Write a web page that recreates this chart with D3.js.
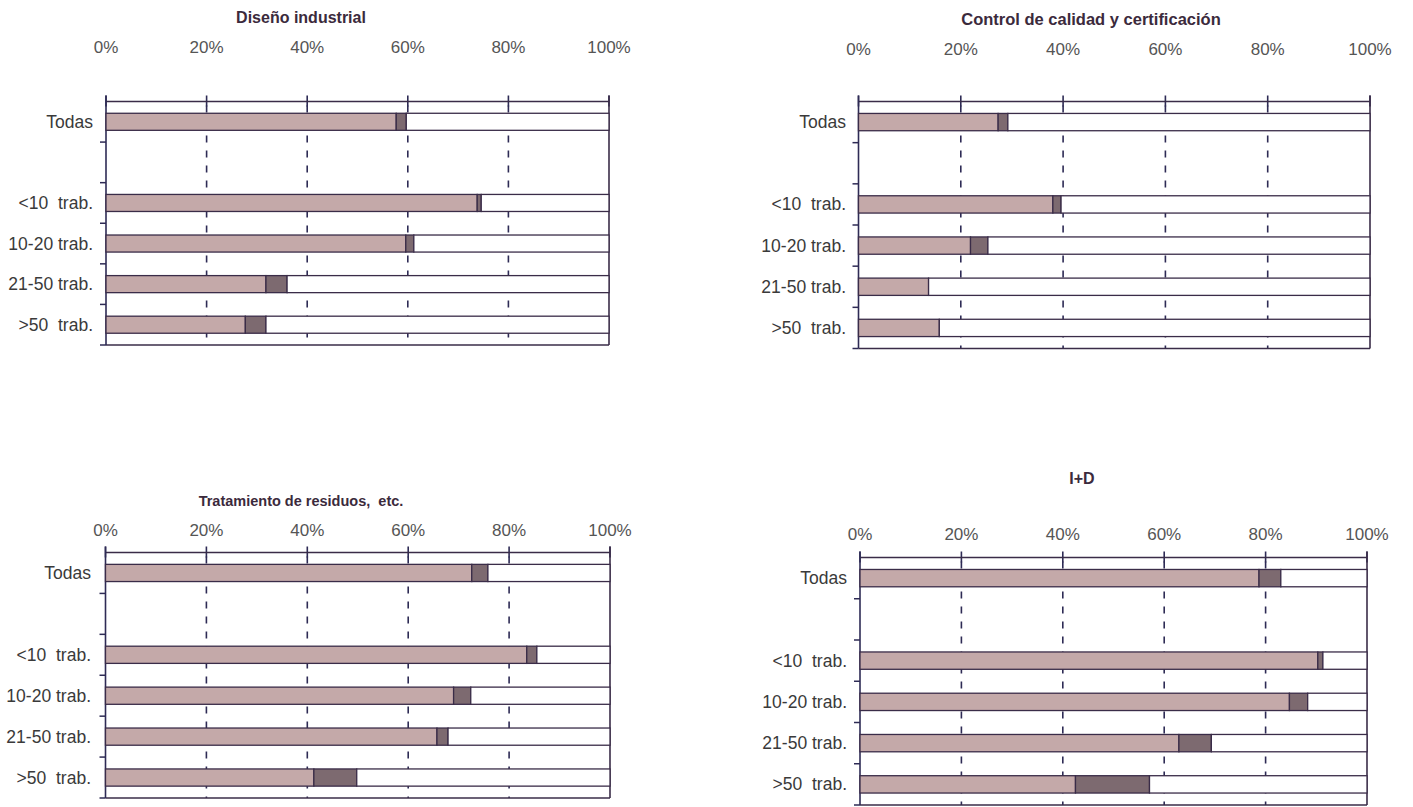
<!DOCTYPE html>
<html>
<head>
<meta charset="utf-8">
<script src="https://cdn.jsdelivr.net/npm/d3@7"></script>
<style>
  html, body { margin: 0; padding: 0; background: #ffffff; }
  svg { display: block; }
  text { font-family: Arial, "Liberation Sans", sans-serif; }
</style>
</head>
<body>
<svg id="chart" width="1413" height="807"></svg>
<script>
// ---- data ----
const categories = ["Todas", "", "<10  trab.", "10-20 trab.", "21-50 trab.", ">50  trab."];
const barCategories = ["Todas", "<10  trab.", "10-20 trab.", "21-50 trab.", ">50  trab."];
const tickValues = [0, 20, 40, 60, 80, 100];
const tickLabels = ["0%", "20%", "40%", "60%", "80%", "100%"];

const titles = ["Diseño industrial", "Control de calidad y certificación", "Tratamiento de residuos,  etc.", "I+D"];

const disenoS1 = [57.7, 73.8, 59.6, 31.8, 27.7];
const disenoS2 = [2.0, 0.8, 1.6, 4.2, 4.1];
const controlS1 = [27.3, 38.0, 21.9, 13.7, 15.8];
const controlS2 = [1.9, 1.6, 3.4, 0.0, 0.0];
const residuosS1 = [72.6, 83.5, 69.0, 65.7, 41.3];
const residuosS2 = [3.2, 2.0, 3.4, 2.2, 8.5];
const idS1 = [78.7, 90.3, 84.7, 62.9, 42.5];
const idS2 = [4.3, 1.0, 3.6, 6.4, 14.6];

// ---- layout ----
const panels = [
  { title: titles[0], s1: disenoS1, s2: disenoS2, x0: 106, x1: 609, top: 101.5, bottom: 345, tx: 301, ty: 17, tfs: 16, tickY: 47, labelX: 93 },
  { title: titles[1], s1: controlS1, s2: controlS2, x0: 858.5, x1: 1370, top: 101.5, bottom: 348.5, tx: 1091, ty: 19, tfs: 16.5, tickY: 49, labelX: 846 },
  { title: titles[2], s1: residuosS1, s2: residuosS2, x0: 105.5, x1: 610, top: 552.5, bottom: 798, tx: 301, ty: 501, tfs: 14.5, tickY: 530, labelX: 91 },
  { title: titles[3], s1: idS1, s2: idS2, x0: 860, x1: 1367, top: 557.5, bottom: 805, tx: 1082, ty: 478, tfs: 16, tickY: 534, labelX: 847 }
];

const C1 = "#c4a9a9";
const C2 = "#7d6a70";
const STROKE = "#3a2c48";
const GRID = "#2e2b55";

const svg = d3.select("#chart");

panels.forEach(p => {
  const g = svg.append("g");
  const x = d3.scaleLinear().domain([0, 100]).range([p.x0, p.x1]);
  const pi = 0.58;
  const y = d3.scaleBand().domain(categories.map((c, i) => i)).range([p.top, p.bottom])
    .paddingInner(pi).paddingOuter(pi / 2);
  const step = y.step();

  // title
  g.append("text").attr("x", p.tx).attr("y", p.ty)
    .attr("text-anchor", "middle").attr("dominant-baseline", "central")
    .attr("font-size", p.tfs).attr("font-weight", "bold").attr("fill", "#3b2a3c")
    .style("white-space", "pre")
    .text(p.title);

  // tick labels
  g.selectAll("text.tick").data(tickValues).enter().append("text")
    .attr("class", "tick")
    .attr("x", d => x(d)).attr("y", p.tickY)
    .attr("text-anchor", "middle").attr("dominant-baseline", "central")
    .attr("font-size", 17).attr("fill", "#555555")
    .text((d, i) => tickLabels[i]);

  // dashed gridlines
  g.selectAll("line.grid").data(tickValues.filter(v => v > 0 && v < 100)).enter().append("line")
    .attr("x1", d => x(d)).attr("x2", d => x(d))
    .attr("y1", p.top).attr("y2", p.bottom)
    .attr("stroke", GRID).attr("stroke-width", 1.6)
    .attr("stroke-dasharray", "7,8").attr("stroke-dashoffset", -4);

  // top ticks (crossing the axis)
  g.selectAll("line.ttick").data(tickValues).enter().append("line")
    .attr("x1", d => x(d)).attr("x2", d => x(d))
    .attr("y1", p.top - 6).attr("y2", p.top + 5)
    .attr("stroke", GRID).attr("stroke-width", 1.6);

  // frame: top, bottom, left, right
  g.append("line").attr("x1", x(0)).attr("x2", x(100)).attr("y1", p.top).attr("y2", p.top)
    .attr("stroke", STROKE).attr("stroke-width", 1.5);
  g.append("line").attr("x1", x(0)).attr("x2", x(100)).attr("y1", p.bottom).attr("y2", p.bottom)
    .attr("stroke", STROKE).attr("stroke-width", 1.5);
  g.append("line").attr("x1", x(0)).attr("x2", x(0)).attr("y1", p.top - 6).attr("y2", p.bottom)
    .attr("stroke", GRID).attr("stroke-width", 1.6);
  g.append("line").attr("x1", x(100)).attr("x2", x(100)).attr("y1", p.top - 6).attr("y2", p.bottom)
    .attr("stroke", STROKE).attr("stroke-width", 1.6);

  // left ticks at band boundaries
  const bounds = d3.range(1, categories.length + 1).map(i => p.top + i * step);
  g.selectAll("line.ltick").data(bounds).enter().append("line")
    .attr("x1", x(0) - 6).attr("x2", x(0))
    .attr("y1", d => d).attr("y2", d => d)
    .attr("stroke", GRID).attr("stroke-width", 1.5);

  // bars
  const rows = barCategories.map((c, i) => {
    const a = p.s1[i], b = p.s2[i];
    return { idx: categories.indexOf(c), segs: [[0, a, C1], [a, a + b, C2], [a + b, 100, "#ffffff"]] };
  });
  rows.forEach(r => {
    r.segs.forEach(s => {
      if (s[1] - s[0] <= 0) return;
      g.append("rect")
        .attr("x", x(s[0])).attr("y", y(r.idx))
        .attr("width", x(s[1]) - x(s[0])).attr("height", y.bandwidth())
        .attr("fill", s[2]).attr("stroke", STROKE).attr("stroke-width", 1.3);
    });
  });

  // category labels
  g.selectAll("text.cat").data(categories.map((c, i) => ({ c, i })).filter(d => d.c !== "")).enter().append("text")
    .attr("x", p.labelX).attr("y", d => y(d.i) + y.bandwidth() / 2)
    .attr("text-anchor", "end").attr("dominant-baseline", "central")
    .attr("font-size", 17.5).attr("fill", "#3a3a3a")
    .style("white-space", "pre")
    .text(d => d.c);
});
</script>
</body>
</html>
